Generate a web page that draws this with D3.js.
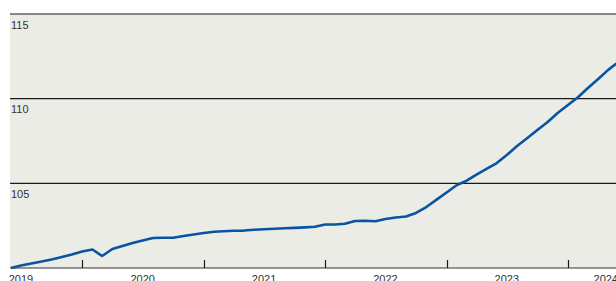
<!DOCTYPE html>
<html>
<head>
<meta charset="utf-8">
<script src="https://cdn.jsdelivr.net/npm/d3@7"></script>
<style>
  body { margin: 0; background: #fff; }
  text { font-family: "Liberation Sans", Arial, sans-serif; font-size: 11px; fill: #333; }
</style>
</head>
<body>
<div id="vis"></div>
<script>
const W = 616, H = 281;
const margin = {top: 14, right: 0, bottom: 13, left: 10};

// monthly index values, starting June 2019
const startMonth = new Date(2019, 5, 1);
const values = [
  100.0, 100.15, 100.27, 100.38, 100.5, 100.65, 100.8, 100.97, 101.09, 100.71,
  101.12, 101.3, 101.48, 101.62, 101.77, 101.79, 101.79, 101.89, 101.98, 102.07,
  102.14, 102.17, 102.2, 102.21, 102.26, 102.29, 102.32, 102.35, 102.37, 102.4,
  102.44, 102.57, 102.57, 102.61, 102.78, 102.79, 102.76, 102.89, 102.98, 103.04,
  103.25, 103.6, 104.02, 104.46, 104.9, 105.14, 105.52, 105.85, 106.2, 106.67,
  107.2, 107.68, 108.15, 108.62, 109.15, 109.63, 110.1, 110.63, 111.16, 111.7,
  112.17
];
const yTicks = [105, 110, 115];
const years = [2019, 2020, 2021, 2022, 2023, 2024];

const data = values.map((v, i) => ({
  date: new Date(startMonth.getFullYear(), startMonth.getMonth() + i, 1),
  value: v
}));

const svg = d3.select('#vis').append('svg')
    .attr('width', W)
    .attr('height', H);

const x = d3.scaleTime()
    .domain([data[0].date, data[data.length - 1].date])
    .range([11, 618.5]);

const y = d3.scaleLinear()
    .domain([100, 115])
    .range([H - margin.bottom, margin.top]);

svg.append('rect')
    .attr('x', margin.left)
    .attr('y', margin.top)
    .attr('width', W - margin.left)
    .attr('height', H - margin.bottom - margin.top)
    .attr('fill', '#ecece6');

svg.append('clipPath').attr('id', 'plot')
  .append('rect')
    .attr('x', margin.left)
    .attr('y', margin.top - 2)
    .attr('width', W - margin.left)
    .attr('height', H - margin.bottom - margin.top + 4);

// gridlines
svg.selectAll('.grid')
  .data(yTicks)
  .join('line')
    .attr('class', 'grid')
    .attr('x1', margin.left)
    .attr('x2', W)
    .attr('y1', d => y(d))
    .attr('y2', d => y(d))
    .attr('stroke', '#1a1a1a')
    .attr('stroke-width', 1.2);

svg.selectAll('.ylab')
  .data(yTicks)
  .join('text')
    .attr('class', 'ylab')
    .attr('x', 11)
    .attr('y', d => y(d) + 14.5)
    .text(d => d);

// x axis
const axisY = y(100);
svg.append('line')
    .attr('x1', margin.left)
    .attr('x2', W)
    .attr('y1', axisY)
    .attr('y2', axisY)
    .attr('stroke', '#333')
    .attr('stroke-width', 1.2);

svg.selectAll('.xtick')
  .data(years.slice(1))
  .join('line')
    .attr('class', 'xtick')
    .attr('x1', d => Math.round(x(new Date(d, 0, 1))) + 0.5)
    .attr('x2', d => Math.round(x(new Date(d, 0, 1))) + 0.5)
    .attr('y1', axisY)
    .attr('y2', axisY - 8)
    .attr('stroke', '#1a1a1a')
    .attr('stroke-width', 1.2);

// last year label is pulled in to sit at the right edge
svg.selectAll('.xlab')
  .data(years)
  .join('text')
    .attr('class', 'xlab')
    .attr('text-anchor', (d, i) => i === years.length - 1 ? 'end' : 'middle')
    .attr('x', (d, i) => i === years.length - 1 ? W + 2 : x(new Date(d, 6, 1)))
    .attr('y', axisY + 15)
    .text(d => d);

// line
const line = d3.line()
    .x(d => x(d.date))
    .y(d => y(d.value));

svg.append('path')
    .datum(data)
    .attr('clip-path', 'url(#plot)')
    .attr('fill', 'none')
    .attr('stroke', '#0a53a3')
    .attr('stroke-width', 2.6)
    .attr('stroke-linejoin', 'round')
    .attr('d', line);
</script>
</body>
</html>
